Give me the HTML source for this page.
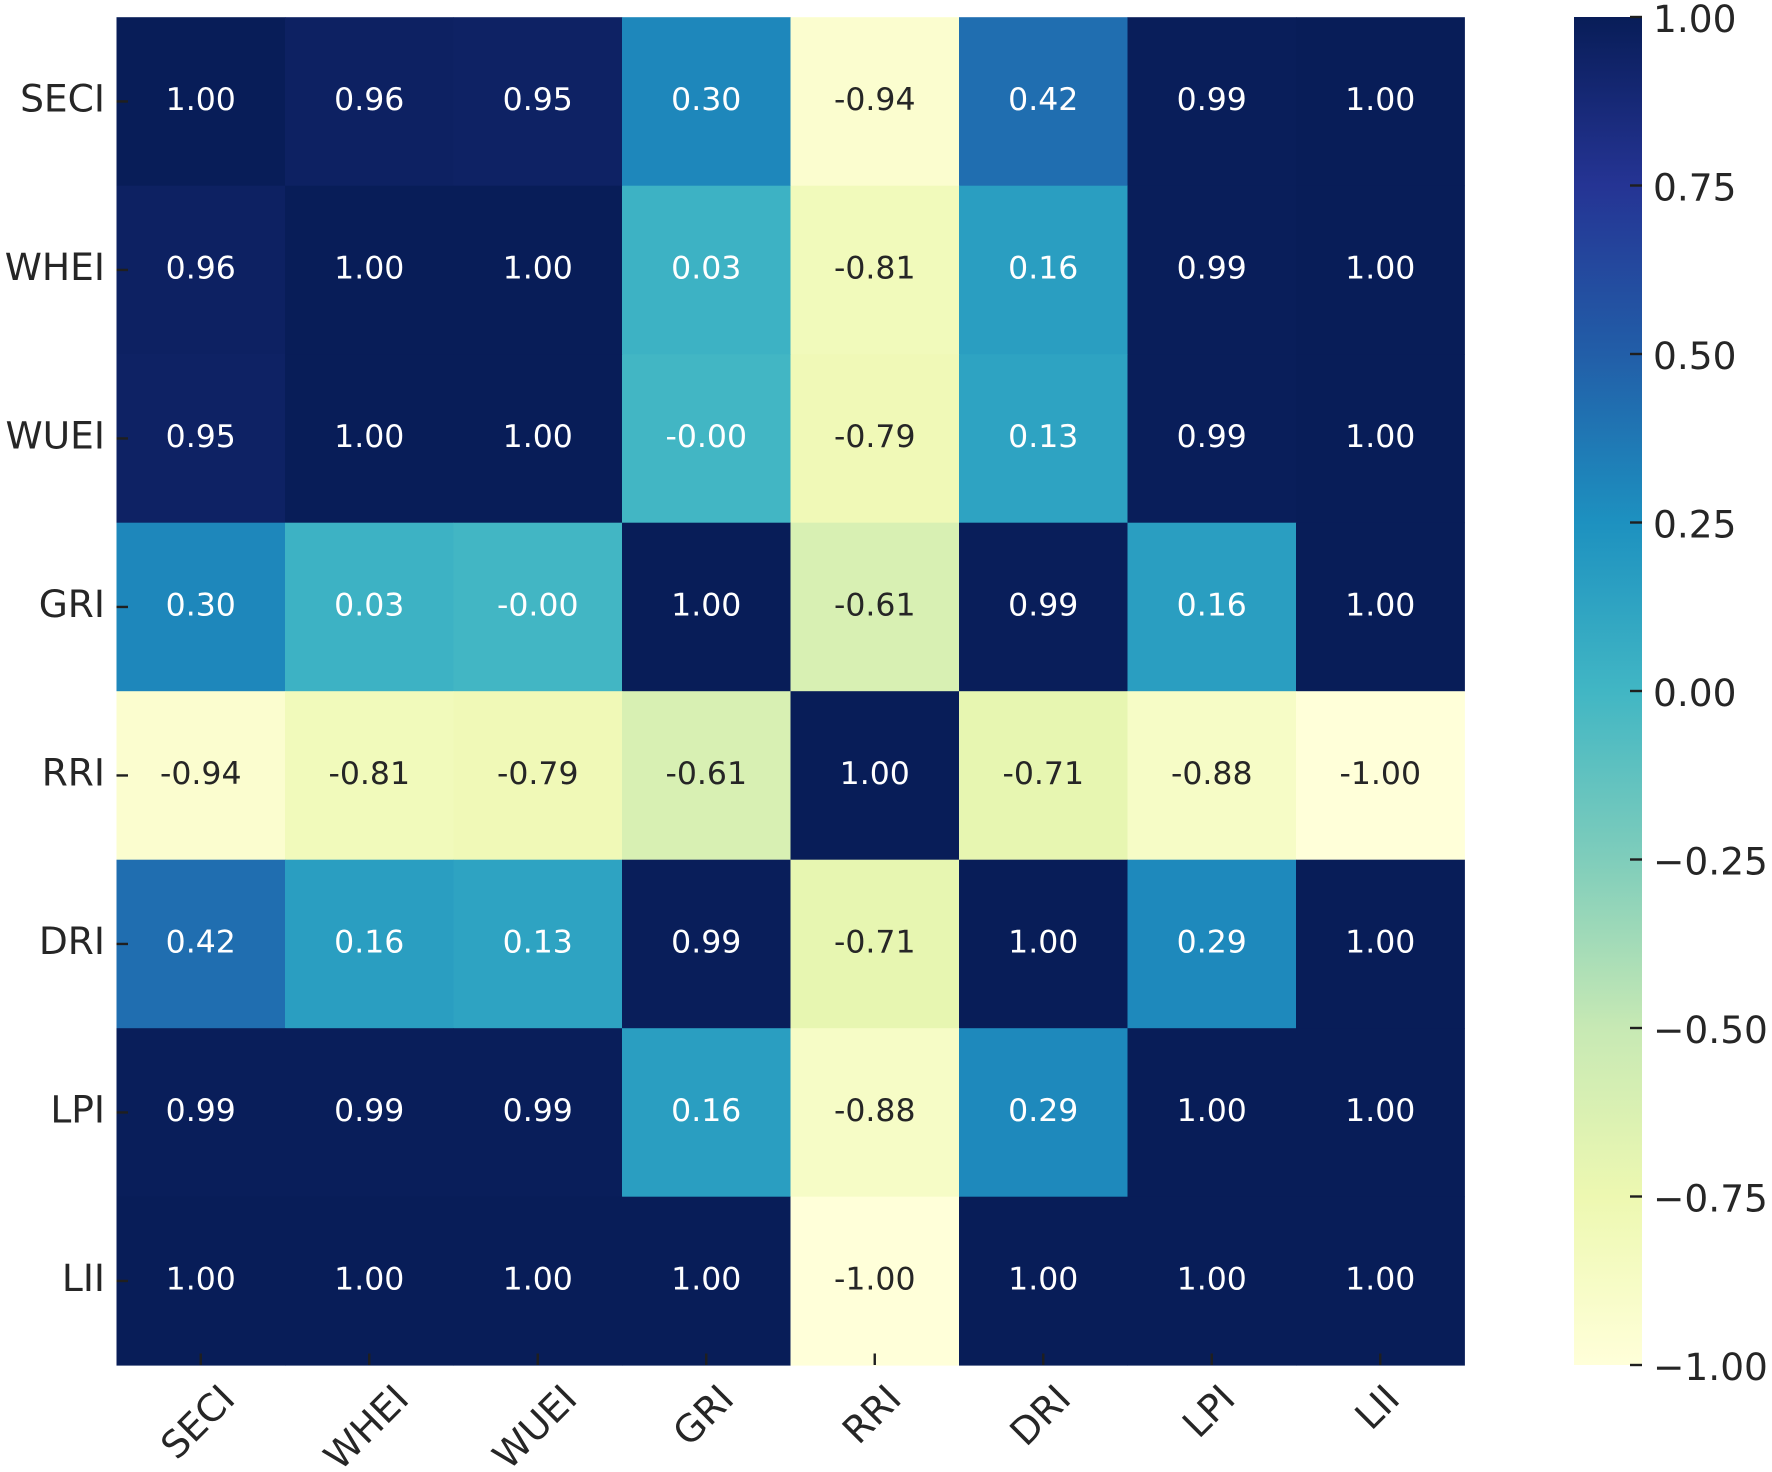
<!DOCTYPE html>
<html lang="en">
<head>
<meta charset="utf-8">
<title>Correlation heatmap</title>
<style>
html,body{margin:0;padding:0;background:#fff;width:1772px;height:1472px;overflow:hidden}
svg{display:block}
text{font-family:"DejaVu Sans","Liberation Sans",sans-serif}
</style>
</head>
<body>
<svg id="chart" xmlns="http://www.w3.org/2000/svg" width="1772" height="1472" viewBox="0 0 1772 1472">
  <rect x="0" y="0" width="1772" height="1472" fill="#ffffff"/>
  <defs>
    <linearGradient id="cbar-gradient" x1="0" y1="1" x2="0" y2="0"></linearGradient>
  </defs>
  <g id="cells"></g>
  <g id="annotations"></g>
  <g id="x-axis"></g>
  <g id="y-axis"></g>
  <g id="colorbar"></g>
</svg>
<script>
const categories = ["SECI", "WHEI", "WUEI", "GRI", "RRI", "DRI", "LPI", "LII"];
const rowSECI = [1.00, 0.96, 0.95, 0.30, -0.94, 0.42, 0.99, 1.00];
const rowWHEI = [0.96, 1.00, 1.00, 0.03, -0.81, 0.16, 0.99, 1.00];
const rowWUEI = [0.95, 1.00, 1.00, -0.004, -0.79, 0.13, 0.99, 1.00];
const rowGRI = [0.30, 0.03, -0.004, 1.00, -0.61, 0.99, 0.16, 1.00];
const rowRRI = [-0.94, -0.81, -0.79, -0.61, 1.00, -0.71, -0.88, -1.00];
const rowDRI = [0.42, 0.16, 0.13, 0.99, -0.71, 1.00, 0.29, 1.00];
const rowLPI = [0.99, 0.99, 0.99, 0.16, -0.88, 0.29, 1.00, 1.00];
const rowLII = [1.00, 1.00, 1.00, 1.00, -1.00, 1.00, 1.00, 1.00];
const matrix = [rowSECI, rowWHEI, rowWUEI, rowGRI, rowRRI, rowDRI, rowLPI, rowLII];
const colorbarTicks = [1.00, 0.75, 0.50, 0.25, 0.00, -0.25, -0.50, -0.75, -1.00];

const NS = "http://www.w3.org/2000/svg";
const plot = {left: 116.5, top: 17.2, cell: 168.5};
const bar = {left: 1574, right: 1642, top: 17, bottom: 1365};
const vMin = -1, vMax = 1;
const ramp = ["#ffffd9", "#edf8b1", "#c7e9b4", "#7fcdbb", "#41b6c4", "#1d91c0", "#225ea8", "#253494", "#081d58"];
const INK = "#262626";
const TICK = "#1f1f1f";

function xScale(i) { return plot.left + i * plot.cell; }
function yScale(i) { return plot.top + i * plot.cell; }
function cbarScale(v) { return bar.bottom - (v - vMin) / (vMax - vMin) * (bar.bottom - bar.top); }

function hexToRgb(h) {
  return [parseInt(h.slice(1, 3), 16), parseInt(h.slice(3, 5), 16), parseInt(h.slice(5, 7), 16)];
}
function colorRgb(v) {
  const t = Math.max(0, Math.min(1, (v - vMin) / (vMax - vMin))) * (ramp.length - 1);
  const k = Math.min(ramp.length - 2, Math.floor(t));
  const f = t - k;
  const a = hexToRgb(ramp[k]);
  const b = hexToRgb(ramp[k + 1]);
  return [0, 1, 2].map(function (c) { return Math.round(a[c] + (b[c] - a[c]) * f); });
}
function luminance(rgb) {
  const l = rgb.map(function (c) {
    const s = c / 255;
    return s <= 0.03928 ? s / 12.92 : Math.pow((s + 0.055) / 1.055, 2.4);
  });
  return 0.2126 * l[0] + 0.7152 * l[1] + 0.0722 * l[2];
}
function make(tag, attrs, parent, content) {
  const el = document.createElementNS(NS, tag);
  Object.keys(attrs).forEach(function (k) { el.setAttribute(k, attrs[k]); });
  if (content !== undefined) el.textContent = content;
  parent.appendChild(el);
  return el;
}

const cellsG = document.getElementById("cells");
const annotationsG = document.getElementById("annotations");
const xAxisG = document.getElementById("x-axis");
const yAxisG = document.getElementById("y-axis");
const colorbarG = document.getElementById("colorbar");
const gradient = document.getElementById("cbar-gradient");

matrix.forEach(function (row, r) {
  row.forEach(function (value, c) {
    const rgb = colorRgb(value);
    const rect = make("rect", {
      x: xScale(c), y: yScale(r), width: plot.cell + 0.4, height: plot.cell + 0.4,
      fill: "rgb(" + rgb.join(",") + ")"
    }, cellsG);
    
    
    const label = make("text", {
      x: xScale(c) + plot.cell / 2, y: yScale(r) + plot.cell / 2 + 8.4,
      "text-anchor": "middle", "font-size": 31.5,
      fill: luminance(rgb) < 0.408 ? "#ffffff" : INK
    }, annotationsG, value.toFixed(2));
    
    
  });
});

categories.forEach(function (name, i) {
  const cy = yScale(i) + plot.cell / 2;
  const ytick = make("line", {x1: plot.left, x2: plot.left + 11.5, y1: cy, y2: cy, stroke: TICK, "stroke-width": 2.4}, yAxisG);
  
  
  const ylabel = make("text", {x: 105, y: cy + 10.2, "text-anchor": "end", "font-size": 37.6, fill: INK}, yAxisG, name);
  
  

  const cx = xScale(i) + plot.cell / 2;
  const xtick = make("line", {x1: cx, x2: cx, y1: 1365, y2: 1353.5, stroke: TICK, "stroke-width": 2.4}, xAxisG);
  
  
  const xlabel = make("text", {"text-anchor": "middle", "font-size": 37.6, fill: INK, x: cx, y: 1400}, xAxisG, name);
  
  
  const w = xlabel.getComputedTextLength();
  const centerY = 1381.5 + (w + 28) * Math.SQRT1_2 / 2;
  const lx = cx - 3.5;
  xlabel.setAttribute("x", lx);
  xlabel.setAttribute("y", centerY + 13.7);
  xlabel.setAttribute("transform", "rotate(-45 " + lx + " " + centerY + ")");
});

ramp.forEach(function (color, i) {
  make("stop", {offset: (i / (ramp.length - 1) * 100) + "%", "stop-color": color}, gradient);
});
const barRect = make("rect", {
  x: bar.left, y: bar.top, width: bar.right - bar.left, height: bar.bottom - bar.top,
  fill: "url(#cbar-gradient)"
}, colorbarG);



colorbarTicks.forEach(function (v) {
  const y = cbarScale(v);
  const tick = make("line", {x1: bar.right - 12, x2: bar.right, y1: y, y2: y, stroke: TICK, "stroke-width": 2.4}, colorbarG);
  
  
  const text = (v < 0 ? "\u2212" : "") + Math.abs(v).toFixed(2);
  const label = make("text", {x: 1653, y: y + 14.8, "font-size": 37.5, fill: INK}, colorbarG, text);
  
  
});
</script>
</body>
</html>
